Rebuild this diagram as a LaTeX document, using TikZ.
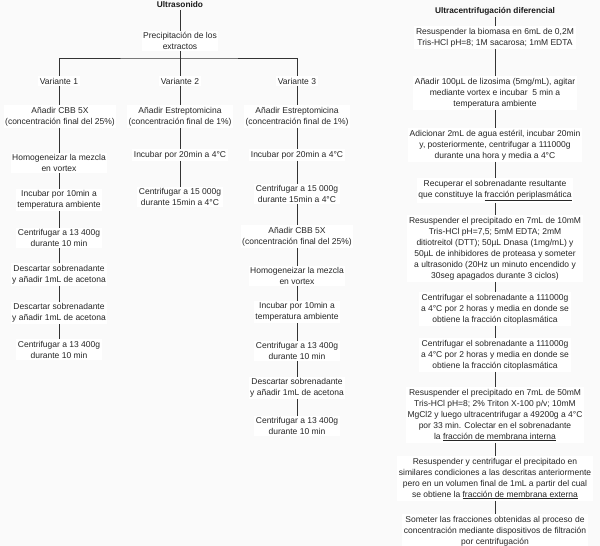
\documentclass[tikz,border=0pt]{standalone}
\usepackage{fontspec}
\setmainfont{Liberation Sans}
\begin{document}
\begin{tikzpicture}[x=1pt,y=-1pt,
  txt/.style={align=center,font=\fontsize{8.5}{11}\selectfont,inner sep=1.6pt,text=black!85,fill=white},
  ttl/.style={align=center,font=\fontsize{8.3}{11}\selectfont\bfseries,inner sep=1.6pt,text=black!90},
  ln/.style={draw=black!80,line width=0.55pt}]
\fill[black!2] (0,0) rectangle (600,546);
\useasboundingbox (0,0) rectangle (600,546);
% ---------- left tree ----------
\node[ttl] (u) at (180,5) {Ultrasonido};
\node[txt] (prec) at (180,41) {Precipitación de los\\extractos};
\coordinate (j) at (180,58);
\node[txt] (v1) at (59,81) {Variante 1};
\node[txt] (v2) at (180,81) {Variante 2};
\node[txt] (v3) at (297,81) {Variante 3};
% column 1
\node[txt] (a1) at (60,116.5) {Añadir CBB 5X\\(concentración final del 25\%)};
\node[txt] (h1) at (59,163) {Homogeneizar la mezcla\\en vortex};
\node[txt] (i1) at (59,200) {Incubar por 10min a\\temperatura ambiente};
\node[txt] (c1) at (59,238) {Centrifugar a 13 400g\\durante 10 min};
\node[txt] (d1) at (59,274.5) {Descartar sobrenadante\\y añadir 1mL de acetona};
\node[txt] (e1) at (59,313) {Descartar sobrenadante\\y añadir 1mL de acetona};
\node[txt] (f1) at (59,349.5) {Centrifugar a 13 400g\\durante 10 min};
% column 2
\node[txt] (a2) at (180,116.5) {Añadir Estreptomicina\\(concentración final de 1\%)};
\node[txt] (i2) at (180,155) {Incubar por 20min a 4°C};
\node[txt] (c2) at (180,197) {Centrifugar a 15 000g\\durante 15min a 4°C};
% column 3
\node[txt] (a3) at (297,116.5) {Añadir Estreptomicina\\(concentración final de 1\%)};
\node[txt] (i3) at (297,155) {Incubar por 20min a 4°C};
\node[txt] (c3) at (297,194) {Centrifugar a 15 000g\\durante 15min a 4°C};
\node[txt] (b3) at (297,236.5) {Añadir CBB 5X\\(concentración final del 25\%)};
\node[txt] (h3) at (297,276) {Homogeneizar la mezcla\\en vortex};
\node[txt] (k3) at (297,312) {Incubar por 10min a\\temperatura ambiente};
\node[txt] (g3) at (297,351) {Centrifugar a 13 400g\\durante 10 min};
\node[txt] (d3) at (297,388) {Descartar sobrenadante\\y añadir 1mL de acetona};
\node[txt] (f3) at (297,426) {Centrifugar a 13 400g\\durante 10 min};
\draw[ln] (u) -- (prec);
\draw[ln] (prec) -- (j);
\draw[ln] (v1) |- (j) -| (v3);
\draw[ln] (j) -- (v2);
\draw[ln] (v1) -- (v1 |- a1.north);
\draw[ln] (a1.south -| h1) -- (h1);
\draw[ln] (h1) -- (i1);
\draw[ln] (i1) -- (c1);
\draw[ln] (c1) -- (d1);
\draw[ln] (d1) -- (e1);
\draw[ln] (e1) -- (f1);
\draw[ln] (v2) -- (a2);
\draw[ln] (a2) -- (i2);
\draw[ln] (i2) -- (c2);
\draw[ln] (v3) -- (a3);
\draw[ln] (a3) -- (i3);
\draw[ln] (i3) -- (c3);
\draw[ln] (c3) -- (b3);
\draw[ln] (b3) -- (h3);
\draw[ln] (h3) -- (k3);
\draw[ln] (k3) -- (g3);
\draw[ln] (g3) -- (d3);
\draw[ln] (d3) -- (f3);
% ---------- right column ----------
\node[ttl] (t) at (495,11) {Ultracentrifugación diferencial};
\node[txt] (r1) at (495,37.5) {Resuspender la biomasa en 6mL de 0,2M\\Tris-HCl pH=8; 1M sacarosa; 1mM EDTA};
\node[txt] (r2) at (495,93) {Añadir 100µL de lizosima (5mg/mL), agitar\\mediante vortex e incubar\ \ 5 min a\\temperatura ambiente};
\node[txt] (r3) at (495,145) {Adicionar 2mL de agua estéril, incubar 20min\\y, posteriormente, centrifugar a 111000g\\durante una hora y media a 4°C};
\node[txt] (r4) at (495,190.5) {Recuperar el sobrenadante resultante\\que constituye la \underline{fracción periplasmática}};
\node[txt] (r5) at (495,248.5) {Resuspender el precipitado en 7mL de 10mM\\Tris-HCl pH=7,5; 5mM EDTA; 2mM\\ditiotreitol (DTT); 50µL Dnasa (1mg/mL) y\\50µL de inhibidores de proteasa y someter\\a ultrasonido (20Hz un minuto encendido y\\30seg apagados durante 3 ciclos)};
\node[txt] (r6) at (495,309) {Centrifugar el sobrenadante a 111000g\\a 4°C por 2 horas y media en donde se\\obtiene la fracción citoplasmática};
\node[txt] (r7) at (495,355) {Centrifugar el sobrenadante a 111000g\\a 4°C por 2 horas y media en donde se\\obtiene la fracción citoplasmática};
\node[txt] (r8) at (495,415) {Resuspender el precipitado en 7mL de 50mM\\Tris-HCl pH=8; 2\% Triton X-100 p/v; 10mM\\MgCl2 y luego ultracentrifugar a 49200g a 4°C\\por 33 min. Colectar en el sobrenadante\\la \underline{fracción de membrana interna}};
\node[txt] (r9) at (495,478.5) {Resuspender y centrifugar el precipitado en\\similares condiciones a las descritas anteriormente\\pero en un volumen final de 1mL a partir del cual\\se obtiene la \underline{fracción de membrana externa}};
\node[txt] (r10) at (495,531) {Someter las fracciones obtenidas al proceso de\\concentración mediante dispositivos de filtración\\por centrifugación};
\draw[ln] (t) -- (r1);
\draw[ln] (r1) -- (r2);
\draw[ln] (r2) -- (r3);
\draw[ln] (r3) -- (r4);
\draw[ln] (r4) -- (r5);
\draw[ln] (r5) -- (r6);
\draw[ln] (r6) -- (r7);
\draw[ln] (r7) -- (r8);
\draw[ln] (r8) -- (r9);
\draw[ln] (r9) -- (r10);
\end{tikzpicture}
\end{document}
